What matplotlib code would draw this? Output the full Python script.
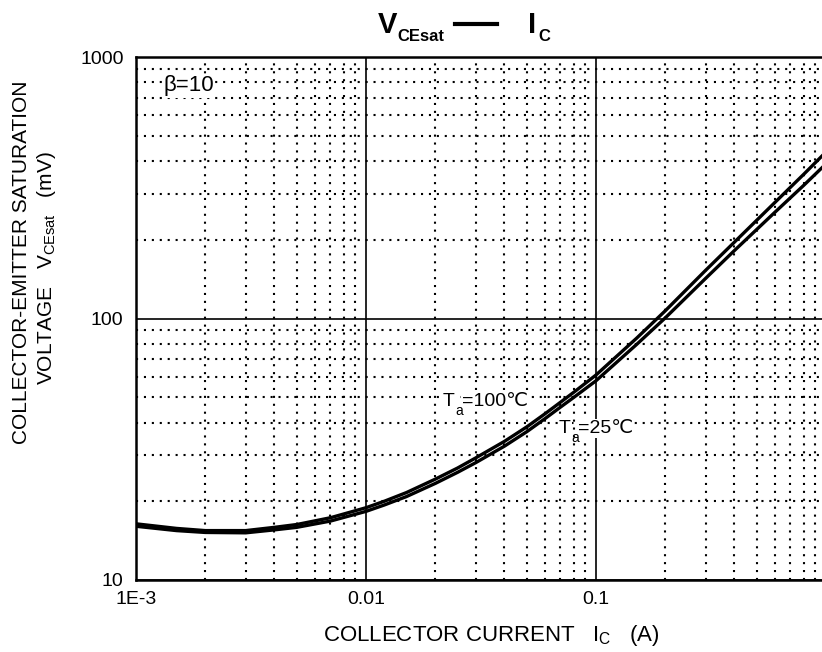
import numpy as np
import matplotlib
matplotlib.use('Agg')
import matplotlib.pyplot as plt
from matplotlib.ticker import LogLocator, FixedLocator, FixedFormatter, NullFormatter
from matplotlib.lines import Line2D

plt.rcParams['font.family'] = ['Liberation Sans', 'DejaVu Sans']
plt.rcParams['mathtext.fontset'] = 'custom'

# collector current (A)
ic = [0.001, 0.0015, 0.002, 0.003, 0.004, 0.005, 0.007, 0.01, 0.012, 0.015,
      0.02, 0.025, 0.03, 0.04, 0.05, 0.06, 0.07, 0.08, 0.1, 0.15, 0.2, 0.3,
      0.4, 0.6, 0.8, 0.96]
# VCEsat (mV), Ta = 100C
vce_100 = [16.4, 15.75, 15.45, 15.45, 15.9, 16.3, 17.3, 18.9, 20.0, 21.6,
           24.3, 26.8, 29.3, 33.9, 38.5, 43.2, 47.8, 52.2, 60.8, 84.0, 107, 153,
           196, 278, 356, 418]
# VCEsat (mV), Ta = 25C
vce_25 = [16.05, 15.45, 15.2, 15.15, 15.55, 15.9, 16.8, 18.3, 19.35, 20.85,
          23.4, 25.8, 28.1, 32.5, 36.9, 41.4, 45.8, 49.9, 57.8, 79.5, 100.5, 142.5,
          182, 255, 323, 377]

xticks = [0.001, 0.01, 0.1]
xtick_labels = ['1E-3', '0.01', '0.1']
yticks = [10, 100, 1000]
ytick_labels = ['10', '100', '1000']

W, H = 822, 652
fig = plt.figure(figsize=(W/100, H/100), dpi=100)
ax = fig.add_axes([136/W, 1-580/H, 1-136/W, (580-57)/H])

def px(x, y):
    # pixel position (from top-left) -> figure fraction
    return x/W, 1-y/H

ax.plot(ic, vce_100, color='black', lw=2.4)
ax.plot(ic, vce_25, color='black', lw=2.4)

ax.set_xscale('log')
ax.set_yscale('log')
ax.set_xlim(0.001, 10**(-1 + 226/230))
ax.set_ylim(10, 1000)

ax.xaxis.set_major_locator(FixedLocator(xticks))
ax.xaxis.set_major_formatter(FixedFormatter(xtick_labels))
ax.yaxis.set_major_locator(FixedLocator(yticks))
ax.yaxis.set_major_formatter(FixedFormatter(ytick_labels))
ax.xaxis.set_minor_locator(LogLocator(base=10, subs=np.arange(2, 10)))
ax.yaxis.set_minor_locator(LogLocator(base=10, subs=np.arange(2, 10)))
ax.xaxis.set_minor_formatter(NullFormatter())
ax.yaxis.set_minor_formatter(NullFormatter())

ax.grid(which='major', color='black', lw=1.2, ls='-')
ax.grid(which='minor', color='black', lw=1.5, ls=(0, (1, 2.8)))
ax.set_axisbelow(True)
ax.tick_params(which='both', length=0)
ax.tick_params(axis='x', pad=8, labelsize=14)
ax.tick_params(axis='y', pad=9, labelsize=14)

for s in ['left', 'top', 'bottom']:
    ax.spines[s].set_linewidth(1.8)
ax.spines['right'].set_visible(False)

# annotations (white box hides the grid dots behind the text)
box = dict(facecolor='white', edgecolor='none', pad=1)
fig.text(*px(163, 86), 'β=10', fontsize=16, va='center', ha='left', bbox=box)
fig.text(*px(443, 406), 'T', fontsize=14, va='baseline', ha='left', bbox=box)
fig.text(*px(462, 406), '=100℃', fontsize=14, va='baseline', ha='left', bbox=box)
fig.text(*px(455, 415), 'a', fontsize=10, va='baseline', ha='left', zorder=5)
fig.text(*px(559, 433), 'T', fontsize=14, va='baseline', ha='left', bbox=box)
fig.text(*px(578, 433), '=25℃', fontsize=14, va='baseline', ha='left', bbox=box)
fig.text(*px(571, 442), 'a', fontsize=10, va='baseline', ha='left', zorder=5)

# title
fig.text(*px(378, 33), 'V', fontsize=21, fontweight='bold', ha='left', va='baseline')
fig.text(*px(397, 41), 'CEsat', fontsize=12, fontweight='bold', ha='left', va='baseline')
fig.add_artist(Line2D([455/W, 497/W], [1-24/H, 1-24/H], color='black', lw=3,
                      transform=fig.transFigure))
fig.text(*px(528, 33), 'I', fontsize=21, fontweight='bold', ha='left', va='baseline')
fig.text(*px(538, 41), 'C', fontsize=12, fontweight='bold', ha='left', va='baseline')

# axis labels
fig.text(*px(22, 262), 'COLLECTOR-EMITTER SATURATION', fontsize=15,
         rotation=90, ha='center', va='center')
fig.text(*px(47, 268), r'VOLTAGE   V$_{\mathregular{CEsat}}$   (mV)', fontsize=15,
         rotation=90, ha='center', va='center')
fig.text(*px(491, 636), r'COLLECTOR CURRENT   I$_{\mathregular{C}}$   (A)', fontsize=16,
         ha='center', va='center')

fig.savefig('out.png', dpi=100)
